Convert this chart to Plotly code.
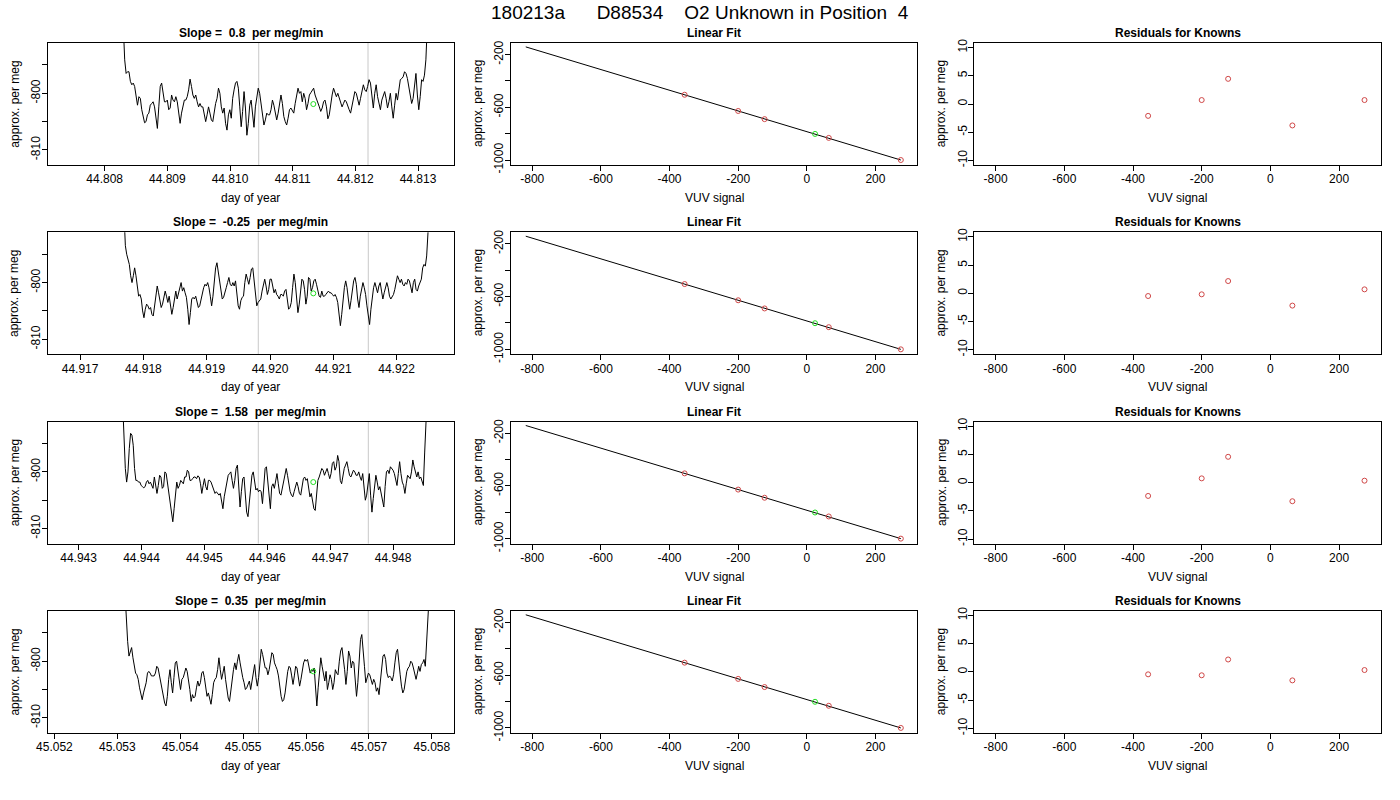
import numpy as np
import plotly.graph_objects as go

# ---------------- data ----------------
main_title = "180213a      D88534    O2 Unknown in Position  4"
slopes = ["0.8", "-0.25", "1.58", "0.35"]

row1_values = [-788.0, -794.1, -796.5, -796.2, -796.2, -797.9, -798.5, -798.2, -798.8, -800.6, -802.1, -800.6,
               -800.9, -802.9, -804.4, -805.2, -805.0, -803.8, -803.5, -802.1, -801.8, -801.5, -802.4, -804.4,
               -806.2, -802.4, -798.8, -798.2, -799.7, -801.5, -801.5, -801.2, -802.9, -802.6, -800.3, -801.2,
               -801.5, -800.6, -801.5, -803.5, -805.3, -803.5, -802.1, -801.2, -801.2, -800.6, -799.4, -797.5,
               -798.8, -800.3, -800.9, -800.3, -801.5, -802.4, -801.8, -802.4, -802.4, -803.5, -805.0, -803.8,
               -802.4, -803.5, -804.7, -805.0, -803.2, -801.8, -800.9, -799.1, -800.0, -802.4, -803.5, -802.6,
               -805.3, -806.5, -803.8, -802.9, -804.4, -800.9, -799.4, -798.2, -797.9, -799.1, -802.4, -805.9,
               -803.2, -799.7, -802.6, -807.4, -805.3, -802.1, -801.2, -803.2, -806.0, -802.4, -800.6, -799.1,
               -800.0, -802.1, -803.2, -805.6, -804.7, -803.5,
               -803.8, -803.8, -802.9, -801.2, -802.1, -803.5, -804.7, -803.5, -801.5, -800.3, -801.8, -804.1,
               -805.0, -805.6, -804.4, -802.9, -802.6, -803.2, -803.5, -801.8, -800.3, -799.1, -800.0, -799.7,
               -801.5, -800.0, -800.9, -802.9, -801.8, -800.3, -799.9, -799.4, -799.1, -800.3, -800.9, -801.5,
               -802.4, -803.2, -802.6, -801.5, -801.2, -802.4, -804.5, -803.8, -801.8, -800.3, -799.1, -800.0,
               -800.6, -800.0, -800.9, -801.8, -802.4, -801.8, -801.2, -801.5, -802.4, -802.9, -803.5, -802.1,
               -800.9, -799.7, -800.0, -801.2, -802.1, -800.9, -799.7, -798.5, -799.4, -799.7, -798.8, -797.6,
               -798.2, -800.9, -802.6, -800.0, -798.5, -800.6, -802.1, -802.9, -801.2, -800.3, -799.7, -800.9,
               -802.6, -801.5, -800.0, -802.4, -804.4, -802.1, -800.0, -801.2, -799.4, -797.6, -797.4, -797.1,
               -796.2, -796.5, -797.4, -798.8, -800.3, -801.8, -800.9, -798.2, -796.5, -800.3, -802.9, -800.6,
               -797.6, -797.9, -796.8, -794.1, -788.0]

row2_values = [-788.0, -793.5, -795.0, -795.9, -796.8, -798.8, -800.0, -798.8, -797.4, -798.8, -800.9, -802.4,
               -802.1, -802.9, -805.0, -806.2, -804.7, -803.8, -804.1, -804.7, -804.4, -805.6, -805.9, -804.4,
               -802.4, -800.6, -801.8, -802.9, -804.4, -803.8, -802.4, -801.5, -802.4, -803.5, -802.4, -804.1,
               -805.6, -804.4, -802.6, -801.5, -802.9, -801.8, -800.6, -800.0, -801.5, -800.9, -801.8, -802.6,
               -804.7, -807.4, -805.3, -802.9, -802.6, -802.9, -802.4, -803.2, -804.4, -804.1, -802.9, -802.1,
               -800.9, -800.3, -800.6, -800.0, -800.9, -802.4, -804.1, -802.4, -799.4, -797.4, -796.5, -798.2,
               -800.3, -801.5, -802.9, -802.6, -801.5, -800.9, -800.0, -799.1, -800.3, -800.6, -800.0, -800.6,
               -799.7, -801.8, -804.1, -804.7, -803.2, -802.6, -802.4, -800.0, -798.5, -799.4, -800.3, -799.1,
               -797.6, -797.4, -799.4, -802.4, -804.1, -803.5, -803.2, -802.9, -801.5, -800.3, -799.4, -800.6,
               -802.1, -801.2,
               -799.4, -799.4, -800.9, -801.8, -801.2, -802.1, -802.4, -802.9, -802.1, -802.1, -802.4, -801.5,
               -801.2, -802.9, -804.7, -804.4, -803.5, -800.9, -798.5, -800.0, -803.2, -805.3, -803.8, -801.5,
               -799.4, -799.7, -801.2, -803.8, -802.4, -799.1, -799.4, -801.5, -800.9, -799.7, -799.4, -800.3,
               -801.5, -802.4, -802.6, -801.5, -802.4, -802.4, -802.1, -801.8, -801.5, -801.8, -801.8, -802.1,
               -802.4, -802.1, -802.6, -803.5, -805.9, -807.6, -805.6, -802.9, -800.9, -799.7, -800.9, -802.9,
               -804.7, -803.2, -801.2, -799.7, -799.1, -800.3, -802.9, -804.4, -802.4, -800.9, -800.0, -800.9,
               -802.1, -804.1, -806.2, -807.4, -804.7, -802.4, -800.9, -800.0, -800.9, -801.8, -800.6, -800.0,
               -801.5, -802.9, -801.8, -800.9, -800.0, -800.9, -802.4, -802.9, -802.6, -802.1, -801.2, -800.0,
               -798.8, -799.4, -800.0, -799.4, -800.3, -800.6, -800.0, -800.3, -799.4, -799.7, -800.9, -801.8,
               -800.0, -799.4, -801.2, -801.5, -800.6, -800.0, -799.4, -797.4, -796.8, -797.1, -795.3, -791.2,
               -788.0]

row3_values = [-788.0, -794.1, -799.4, -801.8, -800.0, -795.9, -793.2, -793.5, -795.3, -799.4, -801.5, -801.5,
               -801.8, -801.8, -802.4, -802.6, -802.8, -802.6, -801.8, -801.5, -802.1, -801.8, -802.4, -802.9,
               -800.9, -802.4, -803.8, -802.4, -800.6, -800.9, -802.9, -802.6, -800.0, -800.3, -802.1, -803.5,
               -805.6, -807.6, -808.8, -806.5, -803.5, -801.8, -802.9, -802.4, -801.5, -801.8, -802.1, -800.9,
               -800.9, -799.7, -800.0, -801.5, -801.5, -801.2, -800.9, -800.9, -801.2, -800.7, -800.9, -802.1,
               -803.8, -802.4, -801.2, -802.6, -803.2, -801.5, -801.5, -801.8, -802.4, -802.9, -803.8, -803.5,
               -803.8, -804.1, -803.8, -805.0, -806.5, -804.4, -802.9, -801.5, -800.6, -800.3, -800.0, -801.5,
               -802.9, -801.5, -799.4, -798.8, -803.2, -806.2, -803.5, -801.2, -800.9, -804.1, -807.1, -807.9,
               -805.3, -802.6, -800.6, -800.0, -801.5, -803.2, -802.9, -803.5, -803.2, -803.5, -805.6, -802.1,
               -799.4, -799.1, -801.5, -804.7, -806.5,
               -802.6, -802.1, -802.9, -801.5, -800.3, -802.1, -803.8, -804.1, -802.9, -801.5, -800.6, -799.4,
               -800.6, -802.4, -803.5, -804.1, -804.4, -803.5, -802.4, -801.8, -802.6, -803.8, -804.1, -802.4,
               -801.2, -800.9, -801.5, -801.2, -802.9, -804.4, -803.8, -805.0, -806.5, -806.8, -803.5, -801.5,
               -800.9, -800.0, -799.4, -799.7, -800.6, -800.0, -799.4, -800.3, -801.2, -800.3, -798.5, -798.2,
               -799.7, -799.1, -797.1, -798.2, -801.5, -802.1, -800.3, -799.4, -798.8, -798.2, -799.4, -800.6,
               -800.9, -800.3, -799.7, -800.0, -800.6, -800.6, -800.0, -800.9, -801.5, -800.3, -803.2, -805.0,
               -804.1, -802.4, -800.3, -804.1, -807.1, -804.7, -802.1, -800.6, -801.8, -803.2, -802.6, -803.8,
               -805.6, -806.2, -802.6, -800.0, -799.7, -800.3, -799.1, -799.4, -799.7, -800.3, -801.5, -802.4,
               -800.3, -798.2, -800.3, -801.8, -802.4, -803.8, -802.1, -800.6, -800.9, -801.2, -800.0, -797.9,
               -799.1, -800.3, -800.9, -800.0, -801.2, -800.9, -801.8, -802.4, -796.5, -791.8, -786.0]

row4_values = [-788.0, -793.5, -796.5, -799.1, -798.5, -797.6, -799.4, -800.9, -802.1, -802.4, -803.2, -804.7,
               -805.9, -806.8, -805.6, -804.7, -803.8, -802.1, -801.8, -802.1, -802.6, -802.6, -802.6, -802.1,
               -800.9, -801.2, -802.4, -803.2, -804.4, -805.9, -807.4, -807.9, -806.2, -803.2, -801.5, -803.8,
               -805.6, -802.9, -800.3, -800.0, -801.8, -803.5, -805.0, -803.2, -802.9, -802.1, -801.2, -801.8,
               -803.2, -805.0, -807.1, -805.9, -806.5, -806.2, -804.7, -803.5, -804.4, -803.8, -802.1, -801.8,
               -802.9, -804.7, -806.2, -805.6, -806.8, -807.6, -805.9, -803.8, -803.2, -802.9, -801.5, -799.4,
               -801.5, -803.2, -802.1, -800.9, -803.2, -805.3, -806.5, -807.1, -805.0, -802.9, -801.5, -800.3,
               -801.5, -800.0, -798.8, -800.3, -802.1, -802.9, -803.8, -805.0, -804.7, -804.1, -803.5, -805.0,
               -803.2, -802.1, -800.6, -802.9, -804.4, -802.9, -800.9, -797.9, -798.8, -800.3, -801.2, -801.2,
               -802.4, -801.5, -800.3,
               -798.5, -798.8, -800.3, -800.9, -801.5, -802.6, -804.7, -806.2, -807.1, -806.8, -805.6, -803.5,
               -801.8, -800.9, -801.2, -802.6, -804.1, -802.6, -800.9, -801.2, -802.6, -804.4, -803.2, -801.5,
               -800.3, -799.7, -800.0, -799.7, -801.2, -802.1, -801.5, -801.8, -801.2, -805.0, -807.9, -804.7,
               -801.2, -799.4, -800.9, -802.4, -803.5, -801.8, -805.0, -803.8, -802.4, -803.2, -805.0, -803.8,
               -801.5, -802.1, -802.4, -800.0, -798.2, -797.6, -799.4, -801.5, -804.1, -801.8, -798.2, -799.1,
               -801.2, -800.0, -800.3, -802.9, -806.2, -803.8, -798.8, -796.2, -795.3, -797.6, -800.9, -803.8,
               -802.9, -802.1, -802.4, -803.5, -804.1, -803.2, -803.8, -805.3, -804.7, -805.9, -803.2, -800.6,
               -799.1, -798.8, -799.7, -802.1, -802.9, -802.6, -802.9, -803.5, -802.4, -800.3, -798.5, -797.9,
               -799.7, -802.4, -804.4, -805.6, -805.0, -803.5, -801.8, -801.2, -800.9, -800.0, -800.3, -801.2,
               -802.6, -803.2, -802.1, -800.9, -801.8, -800.6, -800.3, -799.7, -800.9, -797.6, -793.5, -788.0]

series_values = [row1_values, row2_values, row3_values, row4_values]
series_start = [44.808297, 44.917694, 44.943701, 45.053122]   # day of year
series_end = [44.813148, 44.922517, 44.948544, 45.057960]
window_lines = [[44.810458, 44.812202], [44.919815, 44.921553],
                [44.945857, 44.947606], [45.055245, 45.056990]]
unknown_time = [44.811329, 44.920684, 44.946731, 45.056116]
unknown_value = [-801.9, -801.9, -801.8, -801.8]

time_ticks = [[44.808, 44.809, 44.810, 44.811, 44.812, 44.813],
              [44.917, 44.918, 44.919, 44.920, 44.921, 44.922],
              [44.943, 44.944, 44.945, 44.946, 44.947, 44.948],
              [45.052, 45.053, 45.054, 45.055, 45.056, 45.057, 45.058]]
time_ranges = [[44.807091, 44.813574], [44.916488, 44.922907],
               [44.942509, 44.948968], [45.051893, 45.058353]]

known_vuv = [-356, -200, -123, 64, 274]
known_permeg = [-505, -628, -690, -832, -1000]
unknown_vuv = 24
fit_vuv = [-819, 274]
fit_permeg = [-142, -1000]
residuals = [[-2.1, 0.7, 4.46, -3.8, 0.7],
             [-0.48, -0.18, 2.17, -2.18, 0.7],
             [-2.36, 0.75, 4.57, -3.3, 0.34],
             [-0.43, -0.6, 2.2, -1.5, 0.33]]

vuv_ticks = [-800, -600, -400, -200, 0, 200]
permeg_ticks = [-1000, -800, -600, -400, -200]
permeg_ticklabels = ["-1000", "", "-600", "", "-200"]
resid_ticks = [-10, -5, 0, 5, 10]
series_yticks = [-810, -805, -800, -795]
series_yticklabels = ["-810", "", "-800", ""]

# ---------------- layout helpers ----------------
W, H = 1400, 800
COLS = [(47.7, 454.0), (511.0, 917.3), (974.3, 1381.0)]
ROW_TOP, ROW_BOT, ROW_STEP = 43.0, 165.0, 189.3
FONT = "Liberation Sans, Arial, Helvetica, sans-serif"
RED = "#D04848"
GREEN = "#22DD22"
NB = "\u00a0"

# tick-label standoff support check (negative pulls labels toward the axis)
Y_STANDOFF, X_STANDOFF = -3, -2
try:
    go.layout.YAxis(ticklabelstandoff=Y_STANDOFF)
    go.layout.XAxis(ticklabelstandoff=X_STANDOFF)
    HAVE_STANDOFF = True
except Exception:
    HAVE_STANDOFF = False


def nb(s):
    return s.replace(" ", NB)


def lab(v):
    s = f"{v:g}"
    return s.replace("\u2212", "-")


fig = go.Figure()
layout = dict(width=W, height=H, margin=dict(l=0, r=0, t=0, b=0, pad=0),
              paper_bgcolor="white", plot_bgcolor="white",
              font=dict(family=FONT, size=12, color="black"),
              showlegend=False, shapes=[], annotations=[])


def axis_common(dom, rng, tv, tt, anchor, angle=None, is_y=False):
    d = dict(domain=dom, range=rng, showline=True, mirror=True, linecolor="black", linewidth=1,
             ticks="outside", ticklen=5, tickwidth=1, tickcolor="black", showgrid=False,
             zeroline=False, tickmode="array", tickvals=tv, ticktext=tt, anchor=anchor,
             automargin=False, fixedrange=True,
             tickfont=dict(size=12, family=FONT, color="black"))
    if angle is not None:
        d["tickangle"] = angle
    if HAVE_STANDOFF:
        d["ticklabelstandoff"] = Y_STANDOFF if is_y else X_STANDOFF
    return d


def ann(x, y, text, size=12, angle=0, bold=False):
    layout["annotations"].append(dict(
        x=x / W, y=1 - y / H, xref="paper", yref="paper", text=(f"<b>{text}</b>" if bold else text),
        showarrow=False, xanchor="center", yanchor="middle", textangle=angle,
        font=dict(size=size, family=FONT, color="black")))


for r in range(4):
    top = ROW_TOP + ROW_STEP * r
    bot = ROW_BOT + ROW_STEP * r
    ydom = [1 - bot / H, 1 - top / H]
    for c in range(3):
        i = r * 3 + c + 1
        xn = "x" if i == 1 else f"x{i}"
        yn = "y" if i == 1 else f"y{i}"
        xa = "xaxis" if i == 1 else f"xaxis{i}"
        ya = "yaxis" if i == 1 else f"yaxis{i}"
        x0, x1 = COLS[c]
        xdom = [x0 / W, x1 / W]
        cx = (x0 + x1) / 2
        if c == 0:
            vals = series_values[r]
            t = np.linspace(series_start[r], series_end[r], len(vals))
            fig.add_trace(go.Scatter(x=t, y=vals, mode="lines", line=dict(color="black", width=1),
                                     xaxis=xn, yaxis=yn, hoverinfo="skip"))
            fig.add_trace(go.Scatter(x=[unknown_time[r]], y=[unknown_value[r]], mode="markers",
                                     marker=dict(symbol="circle-open", size=5, color=GREEN,
                                                 line=dict(width=1, color=GREEN)),
                                     xaxis=xn, yaxis=yn))
            for g in window_lines[r]:
                layout["shapes"].append(dict(type="line", xref=xn, yref=f"{yn} domain", x0=g, x1=g,
                                             y0=0, y1=1, layer="below",
                                             line=dict(color="#C8C8C8", width=1)))
            layout[xa] = axis_common(xdom, time_ranges[r], time_ticks[r],
                                     [f"{v:.3f}" for v in time_ticks[r]], yn)
            layout[ya] = axis_common(ydom, [-812.65, -791.13], series_yticks, series_yticklabels, xn, -90, True)
            ann(cx, top - 10, nb(f"Slope =  {slopes[r]}  per meg/min"), bold=True)
            ann(cx, bot + 33, "day of year")
            ann(x0 - 33, (top + bot) / 2, "approx. per meg", angle=-90)
        elif c == 1:
            fig.add_trace(go.Scatter(x=fit_vuv, y=fit_permeg, mode="lines",
                                     line=dict(color="black", width=1), xaxis=xn, yaxis=yn))
            fig.add_trace(go.Scatter(x=known_vuv, y=known_permeg, mode="markers",
                                     marker=dict(symbol="circle-open", size=5, color=RED,
                                                 line=dict(width=1, color=RED)),
                                     xaxis=xn, yaxis=yn))
            fig.add_trace(go.Scatter(x=[unknown_vuv], y=[unknown_value[r]], mode="markers",
                                     marker=dict(symbol="circle-open", size=5, color=GREEN,
                                                 line=dict(width=1, color=GREEN)),
                                     xaxis=xn, yaxis=yn))
            layout[xa] = axis_common(xdom, [-862, 322], vuv_ticks, [lab(v) for v in vuv_ticks], yn)
            layout[ya] = axis_common(ydom, [-1037.7, -112.5], permeg_ticks, permeg_ticklabels, xn, -90, True)
            ann(cx, top - 10, "Linear Fit", bold=True)
            ann(cx, bot + 33, "VUV signal")
            ann(x0 - 33, (top + bot) / 2, "approx. per meg", angle=-90)
        else:
            fig.add_trace(go.Scatter(x=known_vuv, y=residuals[r], mode="markers",
                                     marker=dict(symbol="circle-open", size=5, color=RED,
                                                 line=dict(width=1, color=RED)),
                                     xaxis=xn, yaxis=yn))
            layout[xa] = axis_common(xdom, [-862, 322], vuv_ticks, [lab(v) for v in vuv_ticks], yn)
            layout[ya] = axis_common(ydom, [-10.81, 10.81], resid_ticks, [lab(v) for v in resid_ticks], xn, -90, True)
            ann(cx, top - 10, "Residuals for Knowns", bold=True)
            ann(cx, bot + 33, "VUV signal")
            ann(x0 - 33, (top + bot) / 2, "approx. per meg", angle=-90)

ann(700, 12, nb(main_title), size=19)

fig.update_layout(**layout)
fig.write_html("out.html", config={"displayModeBar": False},
               post_script="document.body.style.margin='0px';document.body.style.padding='0px';"
                           "document.body.style.overflow='hidden';")
